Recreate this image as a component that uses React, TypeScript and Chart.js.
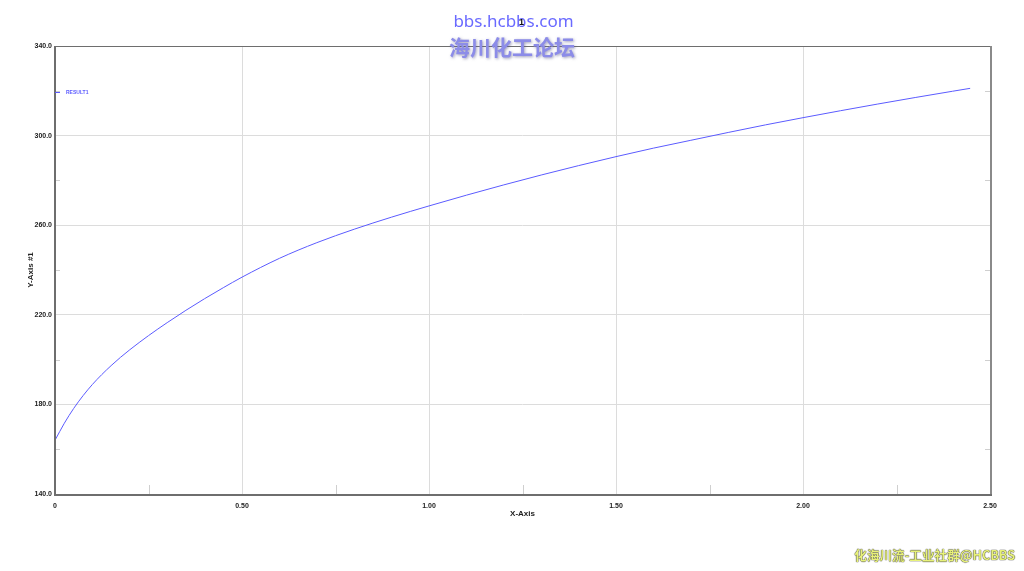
import React, { useEffect, useRef } from "react";
import { Chart, registerables } from "chart.js";

Chart.register(...registerables);

const xValues = [0, 0.025, 0.05, 0.075, 0.1, 0.125, 0.15, 0.175, 0.2, 0.25, 0.3, 0.35, 0.4, 0.45, 0.5, 0.6, 0.7, 0.8, 0.9, 1.0, 1.1, 1.2, 1.3, 1.4, 1.5, 1.6, 1.7, 1.8, 1.9, 2.0, 2.1, 2.2, 2.3, 2.4, 2.447];
const result1 = [164.0, 171.6, 178.2, 183.9, 188.9, 193.3, 197.3, 201.0, 204.4, 210.7, 216.5, 222.0, 227.2, 232.1, 236.8, 245.2, 252.2, 258.2, 263.6, 268.6, 273.4, 278.0, 282.4, 286.6, 290.6, 294.4, 297.9, 301.4, 304.8, 308.0, 311.1, 314.1, 317.0, 319.8, 321.1];
const seriesName = "RESULT1";
const xTitle = "X-Axis";
const yTitle = "Y-Axis #1";
const xMinorTicks = [0.25, 0.75, 1.25, 1.75, 2.25];
const yMinorTicks = [160, 200, 240, 280, 320];

const LINE_COLOR = "#5b5bff";
const TICK_FONT = { family: "Arial, 'Liberation Sans', sans-serif", size: 7, weight: "bold" as const };

const framePlugin = {
  id: "frame",
  afterDraw(chart: any) {
    const { ctx, chartArea } = chart;
    const { left, right, top, bottom } = chartArea;
    const xs = chart.scales.x;
    const ys = chart.scales.y;
    ctx.save();
    ctx.strokeStyle = "#cfcfcf";
    ctx.lineWidth = 1;
    xMinorTicks.forEach((v) => {
      const px = Math.round(xs.getPixelForValue(v)) + 0.5;
      ctx.beginPath();
      ctx.moveTo(px, bottom);
      ctx.lineTo(px, bottom - 9);
      ctx.stroke();
    });
    yMinorTicks.forEach((v) => {
      const py = Math.round(ys.getPixelForValue(v)) + 0.5;
      ctx.beginPath();
      ctx.moveTo(left, py);
      ctx.lineTo(left + 5, py);
      ctx.moveTo(right, py);
      ctx.lineTo(right - 5, py);
      ctx.stroke();
    });
    ctx.strokeStyle = "#6e6e6e";
    ctx.lineWidth = 1;
    ctx.beginPath();
    ctx.moveTo(left + 0.5, top + 0.5);
    ctx.lineTo(right + 0.5, top + 0.5);
    ctx.stroke();
    ctx.strokeStyle = "#8a8a8a";
    ctx.lineWidth = 2;
    ctx.beginPath();
    ctx.moveTo(right + 1, top);
    ctx.lineTo(right + 1, bottom + 1);
    ctx.stroke();
    ctx.strokeStyle = "#6e6e6e";
    ctx.beginPath();
    ctx.moveTo(left, top);
    ctx.lineTo(left, bottom + 1);
    ctx.lineTo(right + 2, bottom + 1);
    ctx.stroke();
    ctx.strokeStyle = LINE_COLOR;
    ctx.lineWidth = 1;
    ctx.beginPath();
    ctx.moveTo(left, 92.5);
    ctx.lineTo(left + 5, 92.5);
    ctx.stroke();
    ctx.fillStyle = LINE_COLOR;
    ctx.font = "bold 5px Arial, 'Liberation Sans', sans-serif";
    ctx.textBaseline = "middle";
    ctx.textAlign = "left";
    ctx.fillText(seriesName, left + 11, 92.5);
    ctx.restore();
  },
};

export default function App() {
  const ref = useRef<HTMLCanvasElement | null>(null);

  useEffect(() => {
    document.body.style.margin = "0";
    const canvas = ref.current;
    if (!canvas) return;
    const chart = new Chart(canvas, {
      type: "line",
      data: {
        datasets: [
          {
            label: seriesName,
            data: xValues.map((x, i) => ({ x, y: result1[i] })),
            borderColor: LINE_COLOR,
            borderWidth: 1,
            pointRadius: 0,
            cubicInterpolationMode: "monotone",
            fill: false,
          },
        ],
      },
      options: {
        responsive: false,
        animation: false,
        layout: { padding: { left: 26, top: 46, right: 34, bottom: 52 } },
        plugins: {
          legend: { display: false },
          tooltip: { enabled: false },
        },
        scales: {
          x: {
            type: "linear",
            min: 0,
            max: 2.5,
            afterFit: (s: any) => {
              s.height = 25;
            },
            grid: { color: "#dcdcdc", lineWidth: 1, drawTicks: false },
            border: { display: false },
            ticks: {
              stepSize: 0.5,
              padding: 8,
              color: "#222",
              font: TICK_FONT,
              maxRotation: 0,
              callback: (v: any) => (v === 0 ? "0" : Number(v).toFixed(2)),
            },
            title: {
              display: true,
              text: xTitle,
              color: "#222",
              font: { family: "Arial, 'Liberation Sans', sans-serif", size: 8, weight: "bold" },
              padding: { top: 0, bottom: 0 },
            },
          },
          y: {
            type: "linear",
            min: 140,
            max: 340,
            afterFit: (s: any) => {
              s.width = 29;
            },
            grid: { color: "#dcdcdc", lineWidth: 1, drawTicks: false },
            border: { display: false },
            ticks: {
              stepSize: 40,
              padding: 3,
              color: "#222",
              font: TICK_FONT,
              callback: (v: any) => Number(v).toFixed(1),
            },
            title: {
              display: true,
              text: yTitle,
              color: "#222",
              font: { family: "Arial, 'Liberation Sans', sans-serif", size: 8, weight: "bold" },
              padding: { top: 0, bottom: 0 },
            },
          },
        },
      },
      plugins: [framePlugin],
    });
    return () => chart.destroy();
  }, []);

  return (
    <div style={{ position: "relative", width: 1024, height: 571, background: "#fff", overflow: "hidden" }}>
      <canvas ref={ref} width={1024} height={571} style={{ display: "block" }} />
      <div
        style={{
          position: "absolute",
          left: 0,
          width: 1027,
          top: 11,
          textAlign: "center",
          font: "17px 'Noto Sans', 'DejaVu Sans', sans-serif",
          color: "#6a6aff",
          lineHeight: "20px",
        }}
      >
        bbs.hcbbs.com
      </div>
      <div
        style={{
          position: "absolute",
          left: 519,
          top: 17,
          font: "bold 9px Arial, sans-serif",
          color: "#111",
        }}
      >
        1
      </div>
      <div
        style={{
          position: "absolute",
          left: 0,
          width: 1024,
          top: 32,
          textAlign: "center",
          font: "bold 21px 'Noto Sans CJK SC', sans-serif",
          color: "#8c8ce8",
          lineHeight: "28px",
          textShadow: "1px 1px 3px rgba(90,90,140,0.6)",
        }}
      >
        海川化工论坛
      </div>
      <div
        style={{
          position: "absolute",
          right: 9,
          top: 546,
          font: "bold 12.6px 'Noto Sans CJK SC', sans-serif",
          color: "#e8f27a",
          lineHeight: "18px",
          textShadow: "0 0 1px #222, 0 0 1px #222",
        }}
      >
        化海川流-工业社群@HCBBS
      </div>
    </div>
  );
}
